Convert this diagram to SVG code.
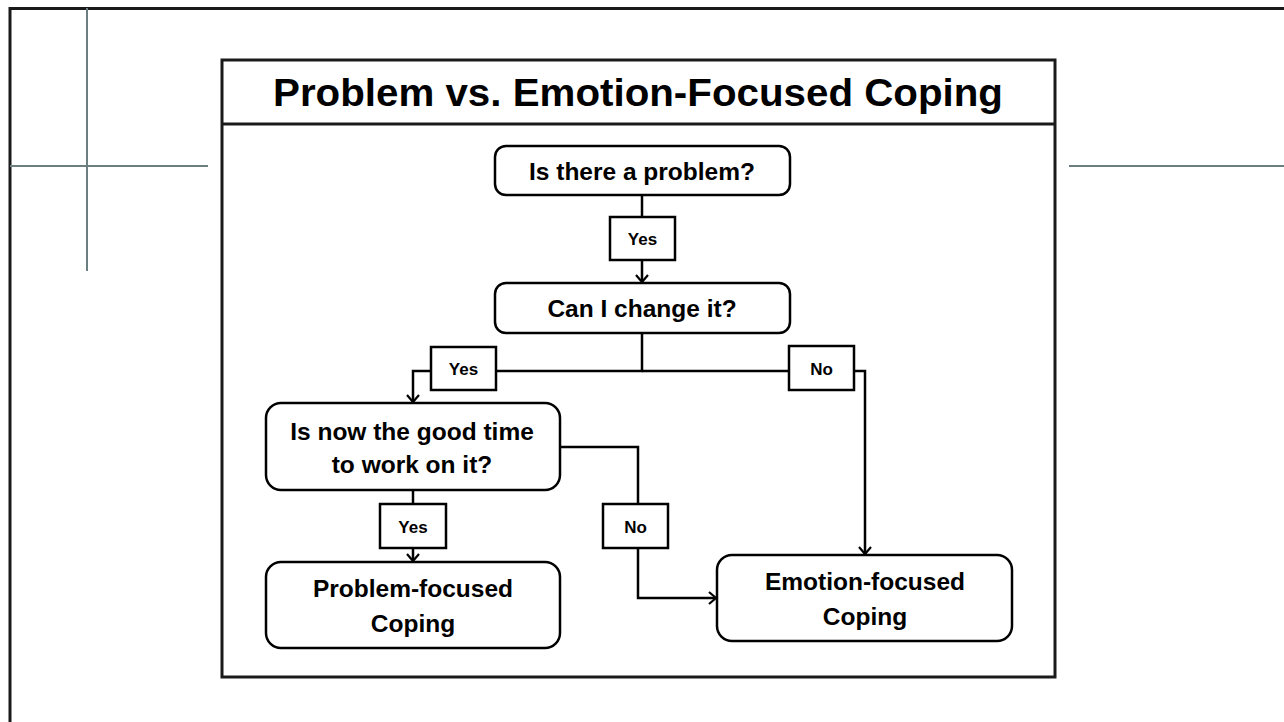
<svg xmlns="http://www.w3.org/2000/svg" width="1284" height="722" viewBox="0 0 1284 722">
  <style>
    .frame { fill: none; stroke: #1a1a1a; stroke-width: 3; }
    .guide { fill: none; stroke: #6b7e80; stroke-width: 2; }
    .node { fill: #ffffff; stroke: #000000; stroke-width: 2.5; }
    .tag { fill: #ffffff; stroke: #000000; stroke-width: 2.5; }
    .wire { fill: none; stroke: #000000; stroke-width: 2.5; }
    .title { font-family: "Liberation Sans", Arial, sans-serif; font-weight: bold; font-size: 39px; fill: #000; text-anchor: middle; }
    .label { font-family: "Liberation Sans", Arial, sans-serif; font-weight: bold; font-size: 24.5px; fill: #000; text-anchor: middle; }
    .small { font-family: "Liberation Sans", Arial, sans-serif; font-weight: bold; font-size: 17px; fill: #000; text-anchor: middle; }
  </style>
  <defs>
    <marker id="arrow" viewBox="-8 -7 10 14" refX="0" refY="0" markerWidth="10" markerHeight="14" markerUnits="userSpaceOnUse" orient="auto">
      <path d="M-7,-6 L0,0 L-7,6" fill="none" stroke="#000" stroke-width="2.2"/>
    </marker>
  </defs>

  <rect width="1284" height="722" fill="#ffffff"/>

  <!-- page frame and guide lines -->
  <g id="page">
    <path class="frame" d="M10,722 V8.5 H1284"/>
    <path class="guide" d="M87,8 V271 M10,166 H208 M1069,166 H1284"/>
  </g>

  <!-- outer panel with title bar -->
  <g id="panel">
    <rect class="frame" x="222" y="60" width="833" height="617" stroke="#000"/>
    <line class="frame" x1="222" y1="124" x2="1055" y2="124"/>
    <text class="title" x="638" y="106" textLength="730" lengthAdjust="spacingAndGlyphs">Problem vs. Emotion-Focused Coping</text>
  </g>

  <!-- connectors -->
  <g id="connectors">
    <path class="wire" d="M642,195 V282" marker-end="url(#arrow)"/>
    <path class="wire" d="M642,333 V371 H413 V402" marker-end="url(#arrow)"/>
    <path class="wire" d="M642,371 H865 V554" marker-end="url(#arrow)"/>
    <path class="wire" d="M560,447 H638 V598 H716" marker-end="url(#arrow)"/>
    <path class="wire" d="M413,490 V561" marker-end="url(#arrow)"/>
  </g>

  <!-- connector labels -->
  <g id="labels">
    <g id="label-yes-1">
      <rect class="tag" x="610" y="217" width="65" height="43"/>
      <text class="small" x="642.5" y="245">Yes</text>
    </g>
    <g id="label-yes-2">
      <rect class="tag" x="431" y="347" width="65" height="43"/>
      <text class="small" x="463.5" y="375">Yes</text>
    </g>
    <g id="label-no-1">
      <rect class="tag" x="789" y="346" width="65" height="44"/>
      <text class="small" x="821.5" y="375">No</text>
    </g>
    <g id="label-no-2">
      <rect class="tag" x="603" y="504" width="65" height="44"/>
      <text class="small" x="635.5" y="533">No</text>
    </g>
    <g id="label-yes-3">
      <rect class="tag" x="380" y="504" width="66" height="44"/>
      <text class="small" x="413" y="533">Yes</text>
    </g>
  </g>

  <!-- nodes -->
  <g id="node-problem">
    <rect class="node" x="495" y="146" width="295" height="49" rx="11"/>
    <text class="label" x="642" y="180">Is there a problem?</text>
  </g>
  <g id="node-change">
    <rect class="node" x="495" y="283" width="295" height="50" rx="11"/>
    <text class="label" x="642" y="317">Can I change it?</text>
  </g>
  <g id="node-timing">
    <rect class="node" x="266" y="403" width="294" height="87" rx="15"/>
    <text class="label" x="412" y="440">Is now the good time</text>
    <text class="label" x="412" y="473">to work on it?</text>
  </g>
  <g id="node-problem-focused">
    <rect class="node" x="266" y="562" width="294" height="86" rx="15"/>
    <text class="label" x="413" y="597">Problem-focused</text>
    <text class="label" x="413" y="632">Coping</text>
  </g>
  <g id="node-emotion-focused">
    <rect class="node" x="717" y="555" width="295" height="86" rx="15"/>
    <text class="label" x="865" y="590">Emotion-focused</text>
    <text class="label" x="865" y="625">Coping</text>
  </g>
</svg>
